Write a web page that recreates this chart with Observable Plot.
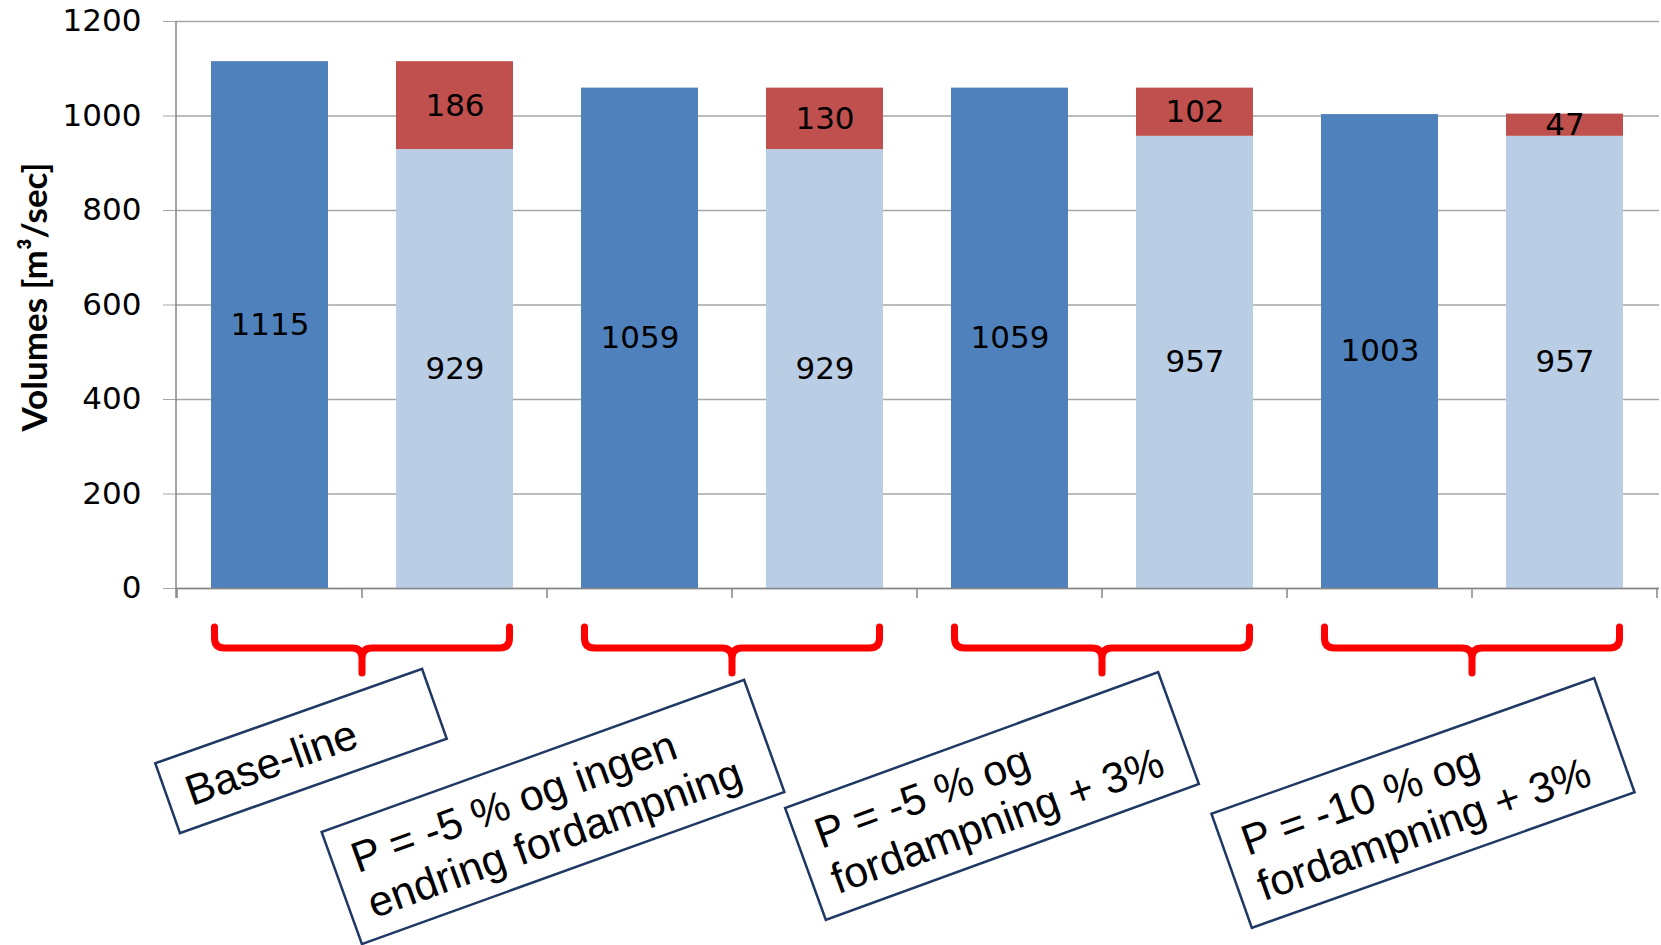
<!DOCTYPE html>
<html>
<head>
<meta charset="utf-8">
<script src="https://cdn.jsdelivr.net/npm/d3@7"></script>
<script src="https://cdn.jsdelivr.net/npm/@observablehq/plot@0.6"></script>
<style>
  html, body { margin: 0; padding: 0; background: #fff; }
  #chart { width: 1661px; height: 945px; }
</style>
</head>
<body>
<div id="chart"></div>
<script>
// ---- data ----
const groupLabels = [
  ["Base-line"],
  ["P = -5 % og ingen", "endring fordampning"],
  ["P = -5 % og", "fordampning + 3%"],
  ["P = -10 % og", "fordampning + 3%"]
];
const totalVolume = [1115, 1059, 1059, 1003];
const baseVolume = [929, 929, 957, 957];
const extraVolume = [186, 130, 102, 47];
const yTicks = [0, 200, 400, 600, 800, 1000, 1200];
const partNames = ["total", "base", "extra"];
const axisTitle = "Volumes [m³/sec]";

// ---- styling / layout (not data) ----
const partColors = ["#4F81BD", "#B9CDE5", "#C0504D"];
const W = 1661, H = 945, ML = 176, MR = 2, MT = 21, MB = 357;
const boxLayout = [
  { dx: -61, cy: 751, w: 283, h: 74, angle: -19.5 },
  { dx: -179, cy: 812, w: 449, h: 119, angle: -19.8 },
  { dx: -110, cy: 796, w: 397, h: 119, angle: -20 },
  { dx: -49, cy: 803, w: 406, h: 121, angle: -19.5 }
];

// ---- table ----
const slots = groupLabels.flatMap((g, i) => [`${i}a`, `${i}b`]);
const rows = [];
groupLabels.forEach((g, i) => {
  rows.push({ slot: `${i}a`, part: "total", value: totalVolume[i] });
  rows.push({ slot: `${i}b`, part: "base", value: baseVolume[i] });
  rows.push({ slot: `${i}b`, part: "extra", value: extraVolume[i] });
});

const plot = Plot.plot({
  width: W, height: H,
  marginLeft: ML, marginRight: MR, marginTop: MT, marginBottom: MB,
  style: { fontFamily: "'DejaVu Sans', Verdana, sans-serif", fontSize: "31px", color: "#000", background: "#fff", overflow: "visible" },
  x: { domain: slots, paddingInner: 0.366, paddingOuter: 0.183, axis: null },
  y: { domain: [0, 1200] },
  color: { domain: partNames, range: partColors },
  marks: [
    Plot.gridY(yTicks, { stroke: "#A6A6A6", strokeOpacity: 1, strokeWidth: 1.3 }),
    Plot.axisY(yTicks, { tickSize: 13, tickPadding: 22, fontSize: 31, stroke: "#A6A6A6", fill: "#000", label: null, tickFormat: d => String(d) }),
    Plot.barY(rows, { x: "slot", y: "value", fill: "part" }),
    Plot.ruleY([0], { stroke: "#868686", strokeWidth: 1.5 }),
    Plot.text(rows, Plot.stackY({ x: "slot", y: "value", text: d => String(d.value), fontSize: 31, fill: "#000" })),
    Plot.text([axisTitle], { frameAnchor: "left", textAnchor: "middle", lineAnchor: "middle", dx: -141, dy: -8, rotate: -90, text: d => d,
      fontFamily: "Lato, 'Open Sans', sans-serif", fontWeight: "bold", fontSize: 35, fill: "#000" })
  ]
});
document.getElementById("chart").appendChild(plot);

// ---- annotations using the plot's own scales ----
const svg = d3.select(plot);
const xs = plot.scale("x");
const ys = plot.scale("y");
const bw = xs.bandwidth;
const step = xs.step ?? (W - ML - MR) / slots.length;
const y0 = ys.apply(0);
const gap = step - bw;
const boundaries = slots.map(s => xs.apply(s) - gap / 2);
boundaries.push(xs.apply(slots[slots.length - 1]) + bw + gap / 2);

const g = svg.append("g").attr("text-anchor", "start");
// y axis line
g.append("line").attr("x1", ML).attr("x2", ML).attr("y1", ys.apply(1200)).attr("y2", y0 + 10)
  .attr("stroke", "#868686").attr("stroke-width", 1.5);
// category boundary ticks
g.selectAll("line.bt").data(boundaries).join("line").attr("class", "bt")
  .attr("x1", d => d).attr("x2", d => d).attr("y1", y0).attr("y2", y0 + 10)
  .attr("stroke", "#868686").attr("stroke-width", 1.5);

function bracePath(xl, xr, yT, yM, yB, r) {
  const xc = (xl + xr) / 2;
  return `M${xl},${yT}V${yM - r}Q${xl},${yM} ${xl + r},${yM}H${xc - r}Q${xc},${yM} ${xc},${yM + r}V${yB}` +
         `M${xr},${yT}V${yM - r}Q${xr},${yM} ${xr - r},${yM}H${xc + r}Q${xc},${yM} ${xc},${yM + r}`;
}

groupLabels.forEach((lines, i) => {
  const xl = xs.apply(`${i}a`) + 3.5;
  const xr = xs.apply(`${i}b`) + bw - 3.5;
  const xc = (xl + xr) / 2;
  g.append("path").attr("d", bracePath(xl, xr, y0 + 39, y0 + 60, y0 + 85, 10))
    .attr("fill", "none").attr("stroke", "#FF0000").attr("stroke-width", 7)
    .attr("stroke-linecap", "round").attr("stroke-linejoin", "round");

  const L = boxLayout[i];
  const bx = g.append("g").attr("transform", `translate(${xc + L.dx},${L.cy}) rotate(${L.angle})`);
  bx.append("rect").attr("x", -L.w / 2).attr("y", -L.h / 2).attr("width", L.w).attr("height", L.h)
    .attr("fill", "#fff").attr("stroke", "#1F3864").attr("stroke-width", 2.5);
  const lh = 48;
  lines.forEach((t, j) => {
    bx.append("text").attr("x", -L.w / 2 + 20).attr("y", (j - (lines.length - 1) / 2) * lh)
      .attr("dy", "0.36em").attr("text-anchor", "start")
      .attr("font-family", "'Liberation Sans', Arial, sans-serif")
      .attr("font-size", 43).attr("fill", "#000").text(t);
  });
});
</script>
</body>
</html>
